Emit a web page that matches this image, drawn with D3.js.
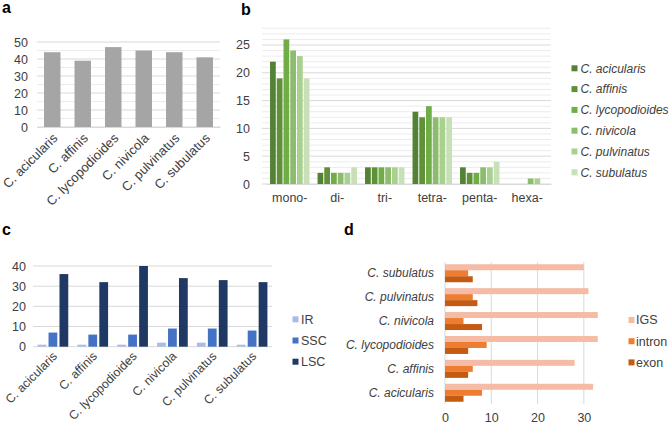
<!DOCTYPE html>
<html><head><meta charset="utf-8">
<script src="https://cdn.jsdelivr.net/npm/d3@7"></script>
<style>
html,body{margin:0;padding:0;background:#fff;}
svg{display:block;font-family:"Liberation Sans",Arial,sans-serif;}
</style></head>
<body>
<svg id="chart" width="669" height="425"></svg>
<script>
// ---------- DATA ----------
const species = ["C. acicularis","C. affinis","C. lycopodioides","C. nivicola","C. pulvinatus","C. subulatus"];
// panel a: total SSRs
const totalSSR = [44,39,47,45,44,41];
const ticksA = [0,10,20,30,40,50];
// panel b: motif types per species
const motifTypes = ["mono-","di-","tri-","tetra-","penta-","hexa-"];
const motifAcicularis    = [22,2,3,13,3,0];
const motifAffinis       = [19,3,3,12,2,0];
const motifLycopodioides = [26,2,3,14,2,0];
const motifNivicola      = [24,2,3,12,3,1];
const motifPulvinatus    = [23,2,3,12,3,1];
const motifSubulatus     = [19,3,3,12,4,0];
const ticksB = [0,5,10,15,20,25];
// panel c: SSR location in regions
const regions = ["IR","SSC","LSC"];
const irCounts  = [1,1,1,2,2,1];
const sscCounts = [7,6,6,9,9,8];
const lscCounts = [36,32,40,34,33,32];
const ticksC = [0,10,20,30,40];
// panel d: SSR location in gene features
const features = ["IGS","intron","exon"];
const igsCounts    = [32,28,33,33,31,30];
const intronCounts = [8,6,9,4,6,5];
const exonCounts   = [4,5,5,8,7,6];
const ticksD = [0,10,20,30];

// ---------- STYLE ----------
const txt = "#404040", grid = "#d9d9d9", gridMinor = "#ececec";
const greens = ["#548235","#5f9139","#70ad47","#8cbd6c","#a9d18e","#c7e0b8"];
const blues = ["#a9bce3","#4472c4","#203864"];
const oranges = ["#f5bba5","#ed7d31","#c55a11"];
const FONT = "Liberation Sans, Arial, sans-serif";

const svg = d3.select("#chart");

function panelLabel(t,x,y){
  svg.append("text").attr("x",x).attr("y",y).text(t)
    .attr("font-size",16).attr("font-weight","bold").attr("fill","#000");
}
panelLabel("a",2,13); panelLabel("b",241,15); panelLabel("c",2,235); panelLabel("d",344,235);

// ---------- PANEL A ----------
{
  const g = svg.append("g");
  const x = d3.scaleBand().domain(species).range([37,220]).paddingInner(0.46).paddingOuter(0.23);
  const y = d3.scaleLinear().domain([0,50]).range([127,42]);
  g.selectAll(".gm").data(d3.range(5,50,10)).join("line")
    .attr("x1",37).attr("x2",220).attr("y1",d=>y(d)).attr("y2",d=>y(d)).attr("stroke",gridMinor);
  g.selectAll(".gM").data(ticksA).join("line")
    .attr("x1",37).attr("x2",220).attr("y1",d=>y(d)).attr("y2",d=>y(d)).attr("stroke",grid);
  g.selectAll("rect").data(totalSSR).join("rect")
    .attr("x",(d,i)=>x(species[i])).attr("width",x.bandwidth())
    .attr("y",d=>y(d)).attr("height",d=>y(0)-y(d)).attr("fill","#a5a5a5");
  const ax = g.append("g").attr("transform","translate(0,127)").call(d3.axisBottom(x).tickSize(0).tickFormat(""));
  ax.select(".domain").attr("stroke",grid);
  const ay = g.append("g").attr("transform","translate(28,0)").call(d3.axisLeft(y).tickValues(ticksA).tickSize(0));
  ay.select(".domain").remove();
  ay.selectAll("text").attr("font-size",12.5).attr("fill",txt).attr("font-family",FONT).attr("x",0);
  g.selectAll(".xl").data(species).join("text")
    .attr("transform",d=>`translate(${x(d)+x.bandwidth()/2+6},139) rotate(-45)`)
    .attr("text-anchor","end").attr("font-size",13).attr("fill",txt).text(d=>d);
}

// ---------- PANEL B ----------
{
  const g = svg.append("g");
  const series = [motifAcicularis,motifAffinis,motifLycopodioides,motifNivicola,motifPulvinatus,motifSubulatus];
  const x0 = d3.scaleBand().domain(motifTypes).range([266,551]).paddingInner(0.17).paddingOuter(0.085);
  const x1 = d3.scaleBand().domain(d3.range(6)).range([0,x0.bandwidth()]).paddingInner(0.15);
  const y = d3.scaleLinear().domain([0,28]).range([184,28.3]);
  g.selectAll(".gm").data(d3.range(1,29).filter(d=>d%5)).join("line")
    .attr("x1",262).attr("x2",551).attr("y1",d=>y(d)).attr("y2",d=>y(d)).attr("stroke",gridMinor);
  g.selectAll(".gM").data(ticksB).join("line")
    .attr("x1",262).attr("x2",551).attr("y1",d=>y(d)).attr("y2",d=>y(d)).attr("stroke",grid);
  series.forEach((arr,si)=>{
    g.append("g").selectAll("rect").data(arr).join("rect")
      .attr("x",(d,i)=>x0(motifTypes[i])+x1(si)).attr("width",x1.bandwidth())
      .attr("y",d=>y(d)).attr("height",d=>y(0)-y(d)).attr("fill",greens[si]);
  });
  const ax = g.append("g").attr("transform","translate(0,184)").call(d3.axisBottom(x0).tickSize(0));
  ax.select(".domain").attr("stroke",grid);
  ax.selectAll("text").attr("font-size",12.5).attr("fill",txt).attr("font-family",FONT).attr("dy","0.71em").attr("y",9);
  const ay = g.append("g").attr("transform","translate(250,0)").call(d3.axisLeft(y).tickValues(ticksB).tickSize(0));
  ay.select(".domain").remove();
  ay.selectAll("text").attr("font-size",12.5).attr("fill",txt).attr("font-family",FONT).attr("x",0);
  const lg = g.append("g");
  species.forEach((s,i)=>{
    const cy = 68.3 + i*20.8;
    lg.append("rect").attr("x",571.5).attr("y",cy-3).attr("width",6).attr("height",6).attr("fill",greens[i]);
    lg.append("text").attr("x",580.5).attr("y",cy).attr("dy","0.35em").attr("font-size",12)
      .attr("font-style","italic").attr("fill",txt).text(s);
  });
}

// ---------- PANEL C ----------
{
  const g = svg.append("g");
  const series = [irCounts,sscCounts,lscCounts];
  const x0 = d3.scaleBand().domain(species).range([33,272]).paddingInner(0.23).paddingOuter(0.115);
  const x1 = d3.scaleBand().domain(d3.range(3)).range([0,x0.bandwidth()]).paddingInner(0.2);
  const y = d3.scaleLinear().domain([0,40]).range([346.7,266]);
  g.selectAll(".gM").data(ticksC).join("line")
    .attr("x1",33).attr("x2",272).attr("y1",d=>y(d)).attr("y2",d=>y(d)).attr("stroke",grid);
  series.forEach((arr,si)=>{
    g.append("g").selectAll("rect").data(arr).join("rect")
      .attr("x",(d,i)=>x0(species[i])+x1(si)).attr("width",x1.bandwidth())
      .attr("y",d=>y(d)).attr("height",d=>y(0)-y(d)).attr("fill",blues[si]);
  });
  const ay = g.append("g").attr("transform","translate(26,0)").call(d3.axisLeft(y).tickValues(ticksC).tickSize(0));
  ay.select(".domain").remove();
  ay.selectAll("text").attr("font-size",12.5).attr("fill",txt).attr("font-family",FONT).attr("x",0);
  g.selectAll(".xl").data(species).join("text")
    .attr("transform",d=>`translate(${x0(d)+x0.bandwidth()/2+5},357) rotate(-45)`)
    .attr("text-anchor","end").attr("font-size",12.3).attr("fill",txt).text(d=>d);
  regions.forEach((r,i)=>{
    const cy = 319.3 + i*21.2;
    g.append("rect").attr("x",292.5).attr("y",cy-3).attr("width",6).attr("height",6).attr("fill",blues[i]);
    g.append("text").attr("x",301).attr("y",cy).attr("dy","0.35em").attr("font-size",12.5).attr("fill",txt).text(r);
  });
}

// ---------- PANEL D ----------
{
  const g = svg.append("g");
  const series = [igsCounts,intronCounts,exonCounts];
  const order = species.slice().reverse();
  const y0 = d3.scaleBand().domain(order).range([262,404]).paddingInner(0.247).paddingOuter(0.094);
  const y1 = d3.scaleBand().domain(d3.range(3)).range([0,y0.bandwidth()]);
  const x = d3.scaleLinear().domain([0,35]).range([445,607]);
  g.selectAll(".gM").data(ticksD).join("line")
    .attr("x1",d=>x(d)).attr("x2",d=>x(d)).attr("y1",262).attr("y2",404).attr("stroke",grid);
  series.forEach((arr,si)=>{
    g.append("g").selectAll("rect").data(arr).join("rect")
      .attr("y",(d,i)=>y0(species[i])+y1(si)).attr("height",y1.bandwidth())
      .attr("x",x(0)).attr("width",d=>x(d)-x(0)).attr("fill",oranges[si]);
  });
  const ay = g.append("g").attr("transform","translate(434,0)").call(d3.axisLeft(y0).tickSize(0));
  ay.select(".domain").remove();
  ay.selectAll("text").attr("font-size",12).attr("fill",txt).attr("font-style","italic")
    .attr("font-family",FONT).attr("x",0);
  const ax = g.append("g").attr("transform","translate(0,404)").call(d3.axisBottom(x).tickValues(ticksD).tickSize(0));
  ax.select(".domain").remove();
  ax.selectAll("text").attr("font-size",12.5).attr("fill",txt).attr("font-family",FONT).attr("y",9);
  features.forEach((f,i)=>{
    const cy = 320 + i*21.2;
    g.append("rect").attr("x",628.5).attr("y",cy-3).attr("width",6).attr("height",6).attr("fill",oranges[i]);
    g.append("text").attr("x",636).attr("y",cy).attr("dy","0.35em").attr("font-size",12.5).attr("fill",txt).text(f);
  });
}
</script>
</body></html>
